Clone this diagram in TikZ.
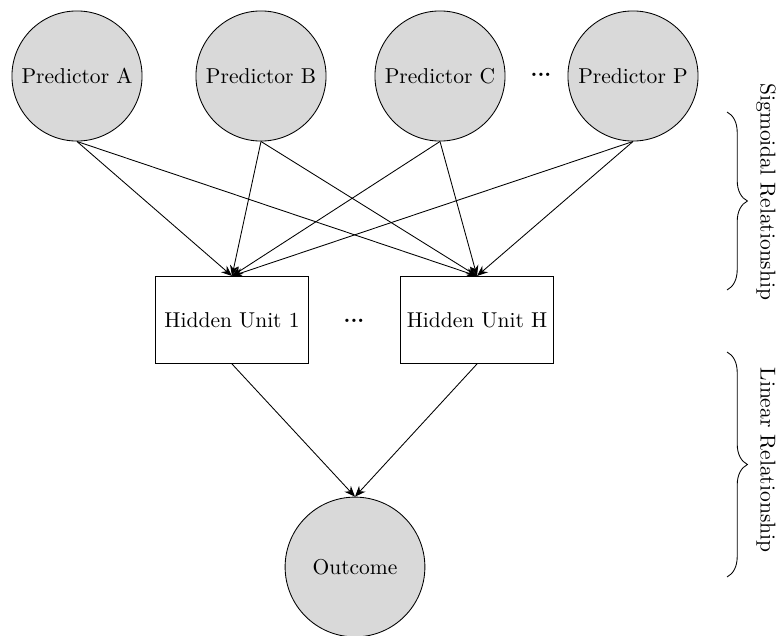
\documentclass[tikz,border=0pt]{standalone}
\usetikzlibrary{arrows.meta,decorations.pathreplacing}
\begin{document}
\begin{tikzpicture}[x=0.465pt,y=-0.465pt,
  predictor/.style={circle,draw,fill=gray!30,minimum size=60.5pt,inner sep=0pt},
  outcomenode/.style={circle,draw,fill=gray!30,minimum size=65pt,inner sep=0pt},
  hidden/.style={rectangle,draw,fill=white,minimum width=71.1pt,minimum height=40.5pt,inner sep=0pt},
  link/.style={-{Stealth[length=5pt,width=4pt]}},
  ellipsisnode/.style={inner sep=0pt,font=\bfseries},
  bracepath/.style={decorate,decoration={brace,amplitude=9.5pt}},
  bracelabel/.style={rotate=-90,inner sep=0pt}]
\useasboundingbox (0,0) rectangle (776,636);

% input layer
\node[predictor] (pa) at (77,76) {Predictor A};
\node[predictor] (pb) at (261,76) {Predictor B};
\node[predictor] (pc) at (440,76) {Predictor C};
\node[predictor] (pp) at (633,76) {Predictor P};
\node[ellipsisnode] (pdots) at (541,75) {...};

% hidden layer
\node[hidden] (h1) at (232,320) {Hidden Unit 1};
\node[hidden] (hh) at (477,320) {Hidden Unit H};
\node[ellipsisnode] (hdots) at (354,321) {...};

% output
\node[outcomenode] (out) at (355,567) {Outcome};

% connections
\foreach \p in {pa,pb,pc,pp}{
  \draw[link] (\p.south) -- (h1.north);
  \draw[link] (\p.south) -- (hh.north);
}
\draw[link] (h1.south) -- (out.north);
\draw[link] (hh.south) -- (out.north);

% layer annotations
\coordinate (s1) at (727,112);
\coordinate (s2) at (727,290);
\coordinate (l1) at (727,352);
\coordinate (l2) at (727,577);
\draw[bracepath] (s1) -- (s2);
\draw[bracepath] (l1) -- (l2);
\node[bracelabel] (slab) at (766,192) {Sigmoidal Relationship};
\node[bracelabel] (llab) at (766,460) {Linear Relationship};
\end{tikzpicture}
\end{document}
